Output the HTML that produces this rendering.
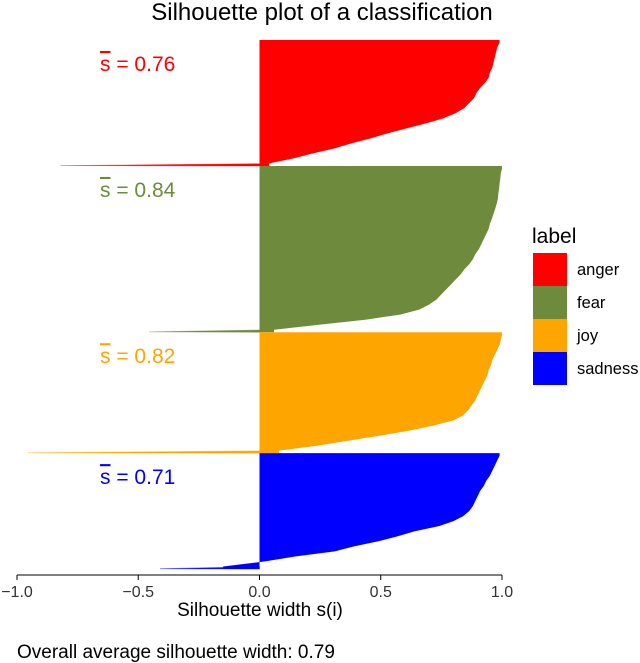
<!DOCTYPE html>
<html><head><meta charset="utf-8"><style>
body{margin:0;background:#fff;}
svg{display:block;font-family:"Liberation Sans",Arial,sans-serif;}
</style></head><body>
<svg id="chart" width="640" height="663" viewBox="0 0 640 663">
<text x="322" y="20" text-anchor="middle" font-size="24" fill="#000">Silhouette plot of a classification</text>
<g id="bars"></g>
<g id="axis"></g>
<text x="260" y="616" text-anchor="middle" font-size="19">Silhouette width s(i)</text>
<text x="17" y="658" font-size="19">Overall average silhouette width: 0.79</text>
<g id="legend"></g>
</svg>
<script>
const labels = ["anger","fear","joy","sadness"];
const colors = ["#ff0000","#6e8b3d","#ffa500","#0000ff"];
const avgWidths = ["0.76","0.84","0.82","0.71"];
const angerVals = [0.99,0.98,0.975,0.97,0.965,0.96,0.95,0.945,0.93,0.91,0.895,0.885,0.865,0.845,0.81,0.76,0.69,0.61,0.53,0.46,0.38,0.31,0.22,0.14,0.04];
const fearVals = [1.0,0.995,0.993,0.99,0.988,0.985,0.983,0.978,0.972,0.965,0.958,0.95,0.945,0.935,0.925,0.915,0.905,0.89,0.88,0.865,0.845,0.83,0.81,0.79,0.77,0.75,0.73,0.70,0.66,0.58,0.44,0.25,0.06];
const joyVals = [1.0,0.995,0.99,0.98,0.97,0.96,0.955,0.945,0.94,0.93,0.92,0.91,0.9,0.89,0.875,0.86,0.84,0.80,0.72,0.62,0.50,0.37,0.24,0.08];
const sadnessVals = [0.99,0.98,0.97,0.96,0.95,0.935,0.925,0.91,0.9,0.89,0.88,0.865,0.84,0.80,0.74,0.64,0.57,0.49,0.39,0.31,0.15,0.02,-0.15];
const tailVals = [-0.82,-0.455,-0.955,-0.41];
const xTicks = [-1.0,-0.5,0.0,0.5,1.0];
const xTickLabels = ["\u22121.0","\u22120.5","0.0","0.5","1.0"];

const NS="http://www.w3.org/2000/svg";
const x = v => 259.5 + v*242.5;
const yTop = 40, yBot = 569;
const groups=[angerVals,fearVals,joyVals,sadnessVals];
const total = groups.reduce((a,g)=>a+g.length,0);
const h = (yBot-yTop)/total;
const bars=document.getElementById('bars');
let yy=yTop;
groups.forEach((vals,gi)=>{
  const g0=yy;
  const gEnd=g0+vals.length*h;
  let d="M"+x(0)+","+g0+" L"+x(vals[0])+","+g0;
  vals.forEach((v,i)=>{
    d+=" L"+x(v)+","+(g0+(i+0.5)*h);
  });
  d+=" L"+x(vals[vals.length-1])+","+gEnd+" L"+x(0)+","+gEnd+" Z";
  const p=document.createElementNS(NS,'path');
  p.setAttribute('d',d);p.setAttribute('fill',colors[gi]);
  
  
  bars.appendChild(p);
  const t=document.createElementNS(NS,'path');
  t.setAttribute('d',"M"+x(0)+","+(gEnd-2.2)+" L"+x(0)+","+gEnd+" L"+x(tailVals[gi])+","+(gEnd-0.3)+" Z");
  t.setAttribute('fill',colors[gi]);t.setAttribute('stroke',colors[gi]);t.setAttribute('stroke-width','0.8');t.setAttribute('stroke-opacity','0.5');
  
  
  bars.appendChild(t);
  const lab=document.createElementNS(NS,'text');
  lab.setAttribute('x',100);lab.setAttribute('y',g0+31);
  lab.setAttribute('font-size','21');lab.setAttribute('fill',colors[gi]);
  lab.innerHTML='<tspan text-decoration="overline">s</tspan> = '+avgWidths[gi];
  
  
  bars.appendChild(lab);
  yy=gEnd;
});
const ax=document.getElementById('axis');
const al=document.createElementNS(NS,'line');
al.setAttribute('x1',x(-1));al.setAttribute('x2',x(1));al.setAttribute('y1',575);al.setAttribute('y2',575);
al.setAttribute('stroke','#000');


ax.appendChild(al);
xTicks.forEach((v,i)=>{
  const tl=document.createElementNS(NS,'line');
  tl.setAttribute('x1',x(v));tl.setAttribute('x2',x(v));tl.setAttribute('y1',575);tl.setAttribute('y2',580);tl.setAttribute('stroke','#000');
  
  
  ax.appendChild(tl);
  const tt=document.createElementNS(NS,'text');
  tt.setAttribute('x',x(v));tt.setAttribute('y',597);tt.setAttribute('text-anchor','middle');tt.setAttribute('font-size','16');tt.setAttribute('fill','#333');
  tt.textContent=xTickLabels[i];
  
  
  ax.appendChild(tt);
});
const lg=document.getElementById('legend');
const lt=document.createElementNS(NS,'text');
lt.setAttribute('x',532);lt.setAttribute('y',243);lt.setAttribute('font-size','21');lt.textContent='label';


lg.appendChild(lt);
labels.forEach((l,i)=>{
  const r=document.createElementNS(NS,'rect');
  r.setAttribute('x',533);r.setAttribute('y',253+i*33);r.setAttribute('width',34);r.setAttribute('height',33);r.setAttribute('fill',colors[i]);
  
  
  lg.appendChild(r);
  const t=document.createElementNS(NS,'text');
  t.setAttribute('x',577);t.setAttribute('y',275+i*33);t.setAttribute('font-size','16.5');t.textContent=l;
  
  
  lg.appendChild(t);
});
</script>
</body></html>
